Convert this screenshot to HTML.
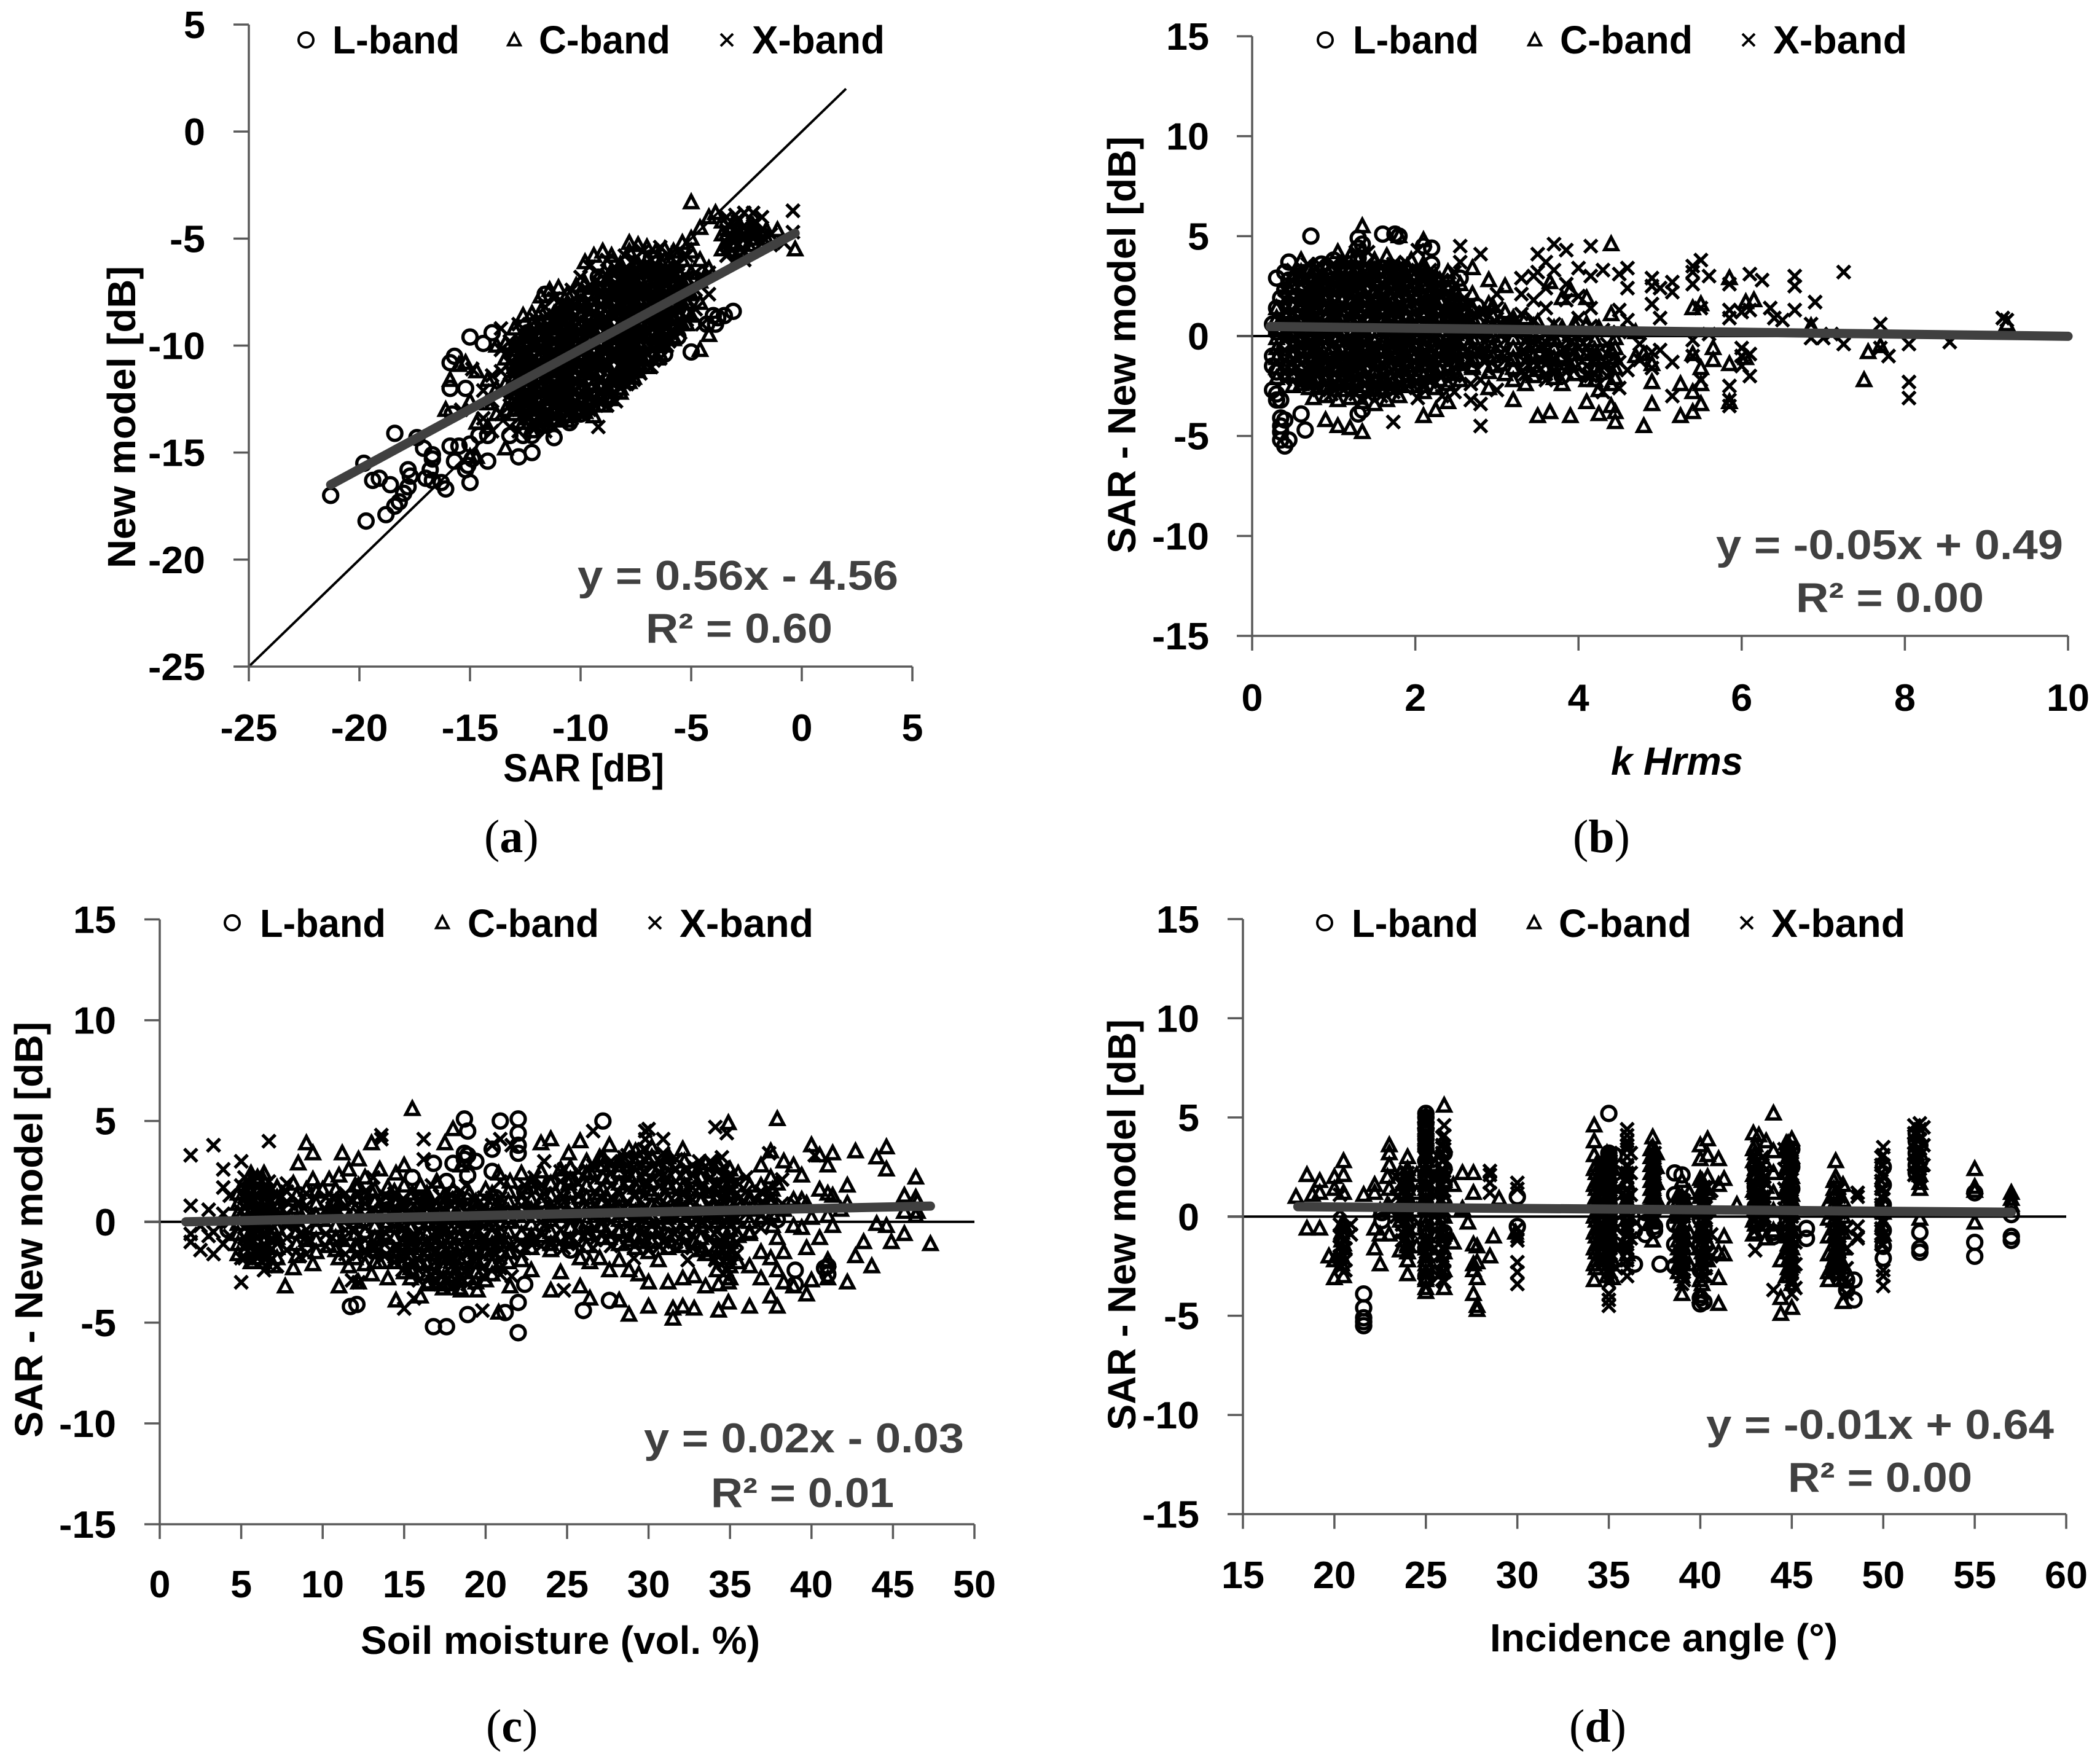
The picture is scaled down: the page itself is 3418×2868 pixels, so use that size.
<!DOCTYPE html>
<html lang="en">
<head>
<meta charset="utf-8">
<title>SAR versus new model scatter plots</title>
<style>
html,body{margin:0;padding:0;background:#fff}
svg{display:block}
text{font-family:"Liberation Sans",sans-serif;font-weight:700;fill:#000}
.eq{fill:#404040;font-size:68px}
.leg{font-size:64px}
.ttl{font-size:64px}
.cap{font-family:"Liberation Serif",serif;font-size:76px;font-weight:400}
.cap tspan{font-weight:700}
</style>
</head>
<body>
<svg id="fig" xmlns="http://www.w3.org/2000/svg" width="3418" height="2868" viewBox="0 0 3418 2868">
<rect width="3418" height="2868" fill="#fff"/>

<g id="pa">
<text class="ttl" x="819" y="1272" textLength="262" lengthAdjust="spacingAndGlyphs">SAR [dB]</text>
<text class="ttl" transform="translate(220,925) rotate(-90)" textLength="492" lengthAdjust="spacingAndGlyphs">New model [dB]</text>
<text class="leg" x="541" y="87" textLength="207" lengthAdjust="spacingAndGlyphs">L-band</text>
<text class="leg" x="877" y="87" textLength="214" lengthAdjust="spacingAndGlyphs">C-band</text>
<text class="leg" x="1224" y="87" textLength="216" lengthAdjust="spacingAndGlyphs">X-band</text>
<text class="eq" x="940" y="960" textLength="522" lengthAdjust="spacingAndGlyphs">y = 0.56x - 4.56</text>
<text class="eq" x="1051" y="1046" textLength="304" lengthAdjust="spacingAndGlyphs">R² = 0.60</text>
<text class="cap" x="788" y="1387">(<tspan>a</tspan>)</text>
</g>

<g id="pb">
<text class="ttl" style="font-style:italic" x="2622" y="1261" textLength="215" lengthAdjust="spacingAndGlyphs">k Hrms</text>
<text class="ttl" transform="translate(1848,901) rotate(-90)" textLength="679" lengthAdjust="spacingAndGlyphs">SAR - New model [dB]</text>
<text class="leg" x="2202" y="87" textLength="205" lengthAdjust="spacingAndGlyphs">L-band</text>
<text class="leg" x="2539" y="87" textLength="216" lengthAdjust="spacingAndGlyphs">C-band</text>
<text class="leg" x="2886" y="87" textLength="218" lengthAdjust="spacingAndGlyphs">X-band</text>
<text class="eq" x="2793" y="910" textLength="565" lengthAdjust="spacingAndGlyphs">y = -0.05x + 0.49</text>
<text class="eq" x="2923" y="996" textLength="306" lengthAdjust="spacingAndGlyphs">R² = 0.00</text>
<text class="cap" x="2560" y="1387">(<tspan>b</tspan>)</text>
</g>

<g id="pc">
<text class="ttl" x="587" y="2692" textLength="650" lengthAdjust="spacingAndGlyphs">Soil moisture (vol. %)</text>
<text class="ttl" transform="translate(69,2340) rotate(-90)" textLength="677" lengthAdjust="spacingAndGlyphs">SAR - New model [dB]</text>
<text class="leg" x="423" y="1525" textLength="205" lengthAdjust="spacingAndGlyphs">L-band</text>
<text class="leg" x="761" y="1525" textLength="214" lengthAdjust="spacingAndGlyphs">C-band</text>
<text class="leg" x="1106" y="1525" textLength="218" lengthAdjust="spacingAndGlyphs">X-band</text>
<text class="eq" x="1048" y="2364" textLength="521" lengthAdjust="spacingAndGlyphs">y = 0.02x - 0.03</text>
<text class="eq" x="1157" y="2453" textLength="298" lengthAdjust="spacingAndGlyphs">R² = 0.01</text>
<text class="cap" x="791" y="2835">(<tspan>c</tspan>)</text>
</g>

<g id="pd">
<text class="ttl" x="2425" y="2688" textLength="566" lengthAdjust="spacingAndGlyphs">Incidence angle (°)</text>
<text class="ttl" transform="translate(1848,2328) rotate(-90)" textLength="669" lengthAdjust="spacingAndGlyphs">SAR - New model [dB]</text>
<text class="leg" x="2200" y="1525" textLength="206" lengthAdjust="spacingAndGlyphs">L-band</text>
<text class="leg" x="2537" y="1525" textLength="216" lengthAdjust="spacingAndGlyphs">C-band</text>
<text class="leg" x="2883" y="1525" textLength="218" lengthAdjust="spacingAndGlyphs">X-band</text>
<text class="eq" x="2777" y="2342" textLength="566" lengthAdjust="spacingAndGlyphs">y = -0.01x + 0.64</text>
<text class="eq" x="2910" y="2428" textLength="300" lengthAdjust="spacingAndGlyphs">R² = 0.00</text>
<text class="cap" x="2554" y="2835">(<tspan>d</tspan>)</text>
</g>
</svg>

<script>
const ticksAX=[-25,-20,-15,-10,-5,0,5];
const ticksAY=[5,0,-5,-10,-15,-20,-25];
const ticksBX=[0,2,4,6,8,10];
const ticksCX=[0,5,10,15,20,25,30,35,40,45,50];
const ticksDX=[15,20,25,30,35,40,45,50,55,60];
const ticksY=[15,10,5,0,-5,-10,-15];

const trendAX=[-21.3,-0.3];
const trendAY=[-16.5,-4.75];
const trendBX=[0.22,10];
const trendBY=[0.48,-0.01];
const trendCX=[1.6,47.3];
const trendCY=[0,0.78];
const trendDX=[18,57];
const trendDY=[0.5,0.22];
const identityA=[-25,2];

const aL=[[-21.3,-17],[-19.8,-15.5],[-19.7,-18.2],[-19.4,-16.3],[-19.1,-16.2],[-18.8,-17.9],[-18.6,-16.5],[-18.4,-17.5,-14.1],[-18.2,-17.3],[-18,-16.9],[-17.8,-16.6,-15.8],[-17.7,-16.1],[-17.4,-14.3],[-17.1,-14.8],[-17,-16.2],[-16.7,-15.1,-15.3,-16.3],[-16.8,-15.8],[-16.3,-16.4],[-16.1,-16.7],[-15.9,-14.7,-10.8,-12],[-15.7,-15.4,-10.5],[-15.8,-13.2],[-15.5,-14.7],[-15.2,-15.8,-12],[-15.1,-15.6],[-15,-16.4,-14.6,-9.6],[-14.9,-15.3],[-14.6,-14.2],[-14.4,-9.9],[-14.2,-15.4,-14.2],[-14,-9.4],[-13.2,-14.2],[-12.8,-15.2],[-12.6,-14.2],[-12.2,-15,-14.2],[-11.6,-7.6],[-11.2,-14.3],[-10.5,-13.6],[-10,-13.2],[-9.2,-12.4],[-6.2,-10.4],[-5.6,-9.6],[-5,-10.3],[-4.3,-9],[-4,-8.6],[-3.9,-9],[-3.8,-8.7],[-3.5,-8.6],[-3.1,-8.4],[-13,-11,-12.2,-10.4],[-12.4,-12.5,-10.8,-9.4],[-11.6,-13,-11,-9],[-11,-12,-10,-8.6],[-10.4,-12.6,-10.6,-8.4],[-9.8,-11.6,-9.6,-7.6],[-9.2,-10.8,-8.8,-6.8],[-8.6,-10.2,-8.2,-6.2],[-8,-11.4,-9.4,-7.4],[-7.4,-10.4,-8.4,-6.4],[-6.8,-9.6,-7.6,-5.9],[-6.2,-8.6,-6.6]];
const aLDense=[[-12.55,-12.7,-12,-11.3,-10.6,-9.9],[-11.95,-13.2,-12.5,-11.8,-11.1,-10.4,-9.7],[-11.35,-13,-12.3,-11.6,-10.9,-10.2,-9.5,-8.8],[-10.75,-12.9,-12.2,-11.5,-10.8,-10.1,-9.4,-8.7],[-10.15,-12.6,-11.9,-11.2,-10.5,-9.8,-9.1,-8.4],[-9.55,-12.4,-11.7,-11,-10.3,-9.6,-8.9,-8.2,-7.5],[-8.95,-12,-11.3,-10.6,-9.9,-9.2,-8.5,-7.8,-7.1],[-8.35,-11.6,-10.9,-10.2,-9.5,-8.8,-8.1,-7.4,-6.7],[-7.75,-11.1,-10.4,-9.7,-9,-8.3,-7.6,-6.9],[-7.15,-10.6,-9.9,-9.2,-8.5,-7.8,-7.1,-6.5],[-6.55,-10,-9.3,-8.6,-7.9,-7.2,-6.6],[-5.95,-9.3,-8.6,-7.9,-7.2,-6.6]];
const aC=[[-16.1,-13],[-15.9,-11.6],[-15.5,-10.9],[-15.2,-10.8],[-15,-12.6,-15.2],[-14.7,-13.6,-11.2,-15.2],[-14.2,-13.8,-11.6,-12.7],[-13.8,-13.2,-12,-10],[-13.4,-14.8,-13,-11.8,-10.6,-9.9],[-13,-13.2,-12.2,-11.2,-10.2,-9.2],[-12.6,-13.6,-12.6,-11.6,-10.6,-9.6,-8.6],[-12.2,-14,-13,-12,-11,-10,-9,-8.5],[-11.8,-13.4,-12.4,-11.4,-10.4,-9.4,-8.4,-7.7],[-11.4,-13.7,-12.7,-11.7,-10.7,-9.7,-8.7,-7.4],[-11,-13.2,-12.2,-11.2,-10.2,-9.2,-8.2,-7.3],[-10.6,-13.5,-12.5,-11.5,-10.5,-9.5,-8.5,-7.6],[-10.2,-13,-12,-11,-10,-9,-8,-7.2],[-9.8,-13.1,-12.2,-11.2,-10.2,-9.2,-8.2,-7.1,-6.1],[-9.4,-13.3,-12.3,-11.3,-10.3,-9.3,-8.3,-7.3,-5.8],[-9,-12.8,-11.8,-10.8,-9.8,-8.8,-7.8,-6.8,-5.6],[-8.6,-12.5,-11.5,-10.5,-9.5,-8.5,-7.5,-6.5,-5.8],[-8.2,-12.2,-11.2,-10.2,-9.2,-8.2,-7.2,-6.2],[-7.8,-11.7,-10.7,-9.7,-8.7,-7.7,-6.7,-5.2,-5.6],[-7.4,-11.2,-10.2,-9.2,-8.2,-7.2,-6.2,-5.3],[-7,-11,-10,-9,-8,-7,-6,-5.4],[-6.6,-10.6,-9.6,-8.6,-7.6,-6.6,-5.6],[-6.2,-10,-9,-8,-7,-6,-5.5],[-5.8,-9.6,-8.6,-7.6,-6.6,-5.6],[-5.4,-9,-8,-7,-6,-5.2],[-5,-8.6,-7.6,-6.6,-5.6,-5,-3.3],[-4.6,-8,-7,-6,-4.5,-10.2],[-4.2,-9.5,-6.4,-4],[-3.9,-3.8],[-3.6,-5.5,-4.8,-4.2],[-3.2,-5.2,-4.6],[-2.8,-5.6,-4.8],[-2.2,-5,-4.4],[-1.6,-5,-4.6],[-1.1,-4.6],[-0.3,-5.5]];
const aCDense=[[-13,-13,-12.5,-12,-11.5,-11,-10.5,-10],[-12.4,-13.4,-12.9,-12.4,-11.9,-11.4,-10.9,-10.4,-9.9,-9.4],[-11.8,-13.5,-13,-12.5,-12,-11.5,-11,-10.5,-10,-9.5,-9],[-11.2,-13.5,-13,-12.5,-12,-11.5,-11,-10.5,-10,-9.5,-9,-8.5],[-10.6,-13.3,-12.8,-12.3,-11.8,-11.3,-10.8,-10.3,-9.8,-9.3,-8.8,-8.3,-8],[-10,-13,-12.5,-12,-11.5,-11,-10.5,-10,-9.5,-9,-8.5,-8,-7.6],[-9.4,-12.8,-12.3,-11.8,-11.3,-10.8,-10.3,-9.8,-9.3,-8.8,-8.3,-7.8,-7.3],[-8.8,-12.4,-11.9,-11.4,-10.9,-10.4,-9.9,-9.4,-8.9,-8.4,-7.9,-7.4,-6.9],[-8.2,-12,-11.5,-11,-10.5,-10,-9.5,-9,-8.5,-8,-7.5,-7,-6.5],[-7.6,-11.5,-11,-10.5,-10,-9.5,-9,-8.5,-8,-7.5,-7,-6.5],[-7,-11,-10.5,-10,-9.5,-9,-8.5,-8,-7.5,-7,-6.5],[-6.4,-10.4,-9.9,-9.4,-8.9,-8.4,-7.9,-7.4,-6.9,-6.4],[-5.8,-9.7,-9.2,-8.7,-8.2,-7.7,-7.2,-6.7,-6.3],[-5.2,-9,-8.5,-8,-7.5,-7],[-3.1,-4.9,-5.3],[-2.7,-4.6,-5.2],[-2.4,-4.7,-5.3]];
const aX=[[-15.4,-13],[-14.9,-11.1],[-14.4,-12.1,-13.4],[-14,-11.4,-12.6,-14],[-13.6,-9.2,-10.2,-11.2,-12.2,-13.2],[-13.2,-9.8,-10.8,-11.8,-12.8,-13.8],[-12.8,-9,-10,-11,-12,-13,-14],[-12.4,-9.4,-10.4,-11.4,-12.4,-13.4],[-12,-8.8,-9.8,-10.8,-11.8,-12.8,-13.8],[-11.6,-8.2,-9.2,-10.2,-11.2,-12.2,-13.2,-14],[-11.2,-7.8,-8.8,-9.8,-10.8,-11.8,-12.8,-13.8],[-10.8,-8,-9,-10,-11,-12,-13],[-10.4,-7.4,-8.4,-9.4,-10.4,-11.4,-12.4,-13.4],[-10,-6.8,-7.8,-8.8,-9.8,-10.8,-11.8,-12.8],[-9.6,-6.3,-7.2,-8.2,-9.2,-10.2,-11.2,-12.2,-13],[-9.2,-6.6,-7.6,-8.6,-9.6,-10.6,-11.6,-12.6,-13.8],[-8.8,-6,-7,-8,-9,-10,-11,-12,-12.8],[-8.4,-6.6,-7.6,-8.6,-9.6,-10.6,-11.6,-12.6],[-8,-5.8,-6.8,-7.8,-8.8,-9.8,-10.8,-11.8],[-7.6,-6,-7,-8,-9,-10,-11,-11.6],[-7.2,-5.6,-6.6,-7.6,-8.6,-9.6,-10.6],[-6.8,-6,-7,-8,-9,-10,-11],[-6.4,-5.4,-6.4,-7.4,-8.4,-9.4,-10.6],[-6,-5.8,-6.8,-7.8,-8.8,-9.8],[-5.6,-5.6,-6.2,-7.2,-8.2,-9.2],[-5.2,-5.8,-6.8,-7.8,-8.8],[-4.8,-6.6,-7.4,-8.3],[-4.5,-6.8,-9],[-4.2,-6.6,-7.6],[-3.4,-4,-4.6,-5.2,-5.8],[-3,-3.9,-4.5,-5.1,-5.7,-6],[-2.6,-3.8,-4.4,-5,-5.6,-6],[-2.2,-3.8,-4.4,-5],[-1.8,-4,-4.6,-5.2],[-1.4,-4.8,-5.3],[-0.8,-5.2],[-0.4,-3.7,-4.7]];
const aXDense=[[-12.7,-13.3,-12.8,-12.3,-11.8,-11.3,-10.8,-10.3,-9.8],[-12.1,-13.5,-13,-12.5,-12,-11.5,-11,-10.5,-10,-9.5],[-11.5,-13.5,-13,-12.5,-12,-11.5,-11,-10.5,-10,-9.5,-9],[-10.9,-13.4,-12.9,-12.4,-11.9,-11.4,-10.9,-10.4,-9.9,-9.4,-8.9,-8.4],[-10.3,-13.2,-12.7,-12.2,-11.7,-11.2,-10.7,-10.2,-9.7,-9.2,-8.7,-8.2],[-9.7,-12.9,-12.4,-11.9,-11.4,-10.9,-10.4,-9.9,-9.4,-8.9,-8.4,-7.9,-7.4],[-9.1,-12.6,-12.1,-11.6,-11.1,-10.6,-10.1,-9.6,-9.1,-8.6,-8.1,-7.6,-7.1],[-8.5,-12.2,-11.7,-11.2,-10.7,-10.2,-9.7,-9.2,-8.7,-8.2,-7.7,-7.2,-6.7],[-7.9,-11.8,-11.3,-10.8,-10.3,-9.8,-9.3,-8.8,-8.3,-7.8,-7.3,-6.8,-6.4],[-7.3,-11.3,-10.8,-10.3,-9.8,-9.3,-8.8,-8.3,-7.8,-7.3,-6.8,-6.3],[-6.7,-10.7,-10.2,-9.7,-9.2,-8.7,-8.2,-7.7,-7.2,-6.7,-6.3],[-6.1,-10,-9.5,-9,-8.5,-8,-7.5,-7,-6.5],[-5.5,-9.4,-8.9,-8.4,-7.9,-7.4,-6.9,-6.5],[-3.3,-4.4,-4.9,-5.4],[-2.9,-4.2,-4.8,-5.3],[-2.1,-4.2,-4.7]];

const bL=[[0.25,-1.5,-1,-2.7,0.6],[0.3,-3.2,-2.9,-1.8,1.4,2.9,0.2],[0.35,-4.1,-4.5,-4.8,-5.2,-3.2,-1,0.4,1.9],[0.4,-5.5,-4.2,-0.6,0.8,2.3,3.2],[0.45,-5.2,-1.6,0.2,1.6,3.7,2.8],[0.55,-2,-0.8,0.6,2,3],[0.6,-3.9,-1.4,0.3,1.3],[0.65,-4.7,-2.2,0.8,2.4],[0.72,5,-0.6,1.8],[0.85,-1.6,0.5,3.6,2.4],[1,-0.8,1.2,2.6,3.8],[1.15,-1.9,0.2,1.9,3.1],[1.3,-3.9,4.9,4.4,-1.2,0.9,2.8,3.9],[1.35,-3.7,0.1,1.6,4.6],[1.6,5.1,-1.3,0.7,2.2,3.4],[1.75,5.1,-0.9,1.3,2.7],[1.8,5,0.3,3.3],[2.1,4.5,-1.1,1.1,2.5],[2.2,4.4,0.2,1.9,3.6],[2.4,-0.6,0.9,2.4],[2.55,0.3,1.6,2.9]];
const bLDense=[[0.75,-2.3,-1.3,-0.3,0.7,1.7,2.7],[1.05,-2.2,-1.2,-0.2,0.8,1.8,2.8],[1.25,-2.4,-1.4,-0.4,0.6,1.6,2.6],[1.55,-2.3,-1.3,-0.3,0.7,1.7,2.7],[1.85,-2.2,-1.2,-0.2,0.8,1.8,2.8],[2.15,-2,-1,0,1,2,3],[2.45,-1.6,-0.7,0.3,1.3,2.3],[2.75,-1.2,-0.3,0.6,1.5],[3.05,-1.3,-0.4,0.6],[3.55,-1.7,-0.9,0],[3.8,-2,-1.1,-0.2],[4.05,-1.7,-0.8,0.1],[4.3,-1.8,-0.8]];
const bC=[[0.45,-1.2,0,1.2,2.4],[0.6,-2.4,-1.6,-0.8,0,0.8,1.6,2.4,3.2,3.8],[0.75,-3.1,-2.3,-1.5,-0.7,0.1,0.9,1.7,2.5,3.3],[0.9,-4.2,-3,-2.2,-1.4,-0.6,0.2,1,1.8,2.6,3.4],[1.05,-4.5,-3.2,-2.4,-1.6,-0.8,0,0.8,1.6,2.4,3.2,4.2],[1.2,-4.6,-3.1,-2.3,-1.5,-0.7,0.1,0.9,1.7,2.5,3.3,4],[1.35,-4.8,-3.3,-2.5,-1.7,-0.9,-0.1,0.7,1.5,2.3,3.1,5.5],[1.5,-3.4,-2.6,-1.8,-1,-0.2,0.6,1.4,2.2,3,3.8],[1.65,-3.2,-2.4,-1.6,-0.8,0,0.8,1.6,2.4,3.2,4],[1.8,-3,-2.2,-1.4,-0.6,0.2,1,1.8,2.6,3.4,5],[1.95,-2.5,-1.7,-0.9,-0.1,0.7,1.5,2.3,3.1,3.8],[2.1,-4,-2.8,-2,-1.2,-0.4,0.4,1.2,2,2.8,3.6,4.8],[2.25,-3.7,-2.6,-1.8,-1,-0.2,0.6,1.4,2.2,3],[2.4,-3.3,-2.4,-1.6,-0.8,0,0.8,1.6,2.4,3.2],[2.55,-2.2,-1.4,-0.6,0.2,1,1.8,2.6],[2.7,-1.5,-0.7,0.5,1.3,2.1,3.4],[2.9,-2.6,-1.8,-1,0,0.8,1.6,2.8],[3.1,-1.9,-0.9,0.3,1.2,2.5],[3.2,-3.2,-2.2,-1.2,0.6],[3.35,-2.4,-1.4,-0.4,0.9],[3.5,-4,-1.7,-0.5,0.7],[3.65,-3.8,-1.2,-0.2,2.7],[3.8,-2.4,-1,0.4,1.9],[3.9,-4,-1.5,0.1,2.3],[4.1,-3.3,-2.2,-0.9,0.6,1.9],[4.25,-3.9,-2.7,-1.1,0.4],[4.4,4.6,-3.5,-2.4,-0.7,1.1],[4.45,-4.3,-3.8,-1.6,-0.6],[4.7,-1,0.2],[4.8,-4.5,-0.9],[4.9,-3.4,-2.3,-1.4],[5.25,-4,-2.4],[5.4,-3.8,-2.8,-0.9,1.4],[5.5,-3.4,-2.4,-1.6,1.6],[5.65,-1.2,-0.6],[5.85,2.9,-1.4,-3.3],[6.05,1.7,-1.1],[6.15,1.8],[6.85,0.5],[7.5,-2.2],[7.55,-0.8],[7.7,-0.5],[9.25,0.6]];
const bCDense=[[0.3,-2.1,-1.6,-1.1,-0.6,-0.1,0.4,0.9,1.4],[0.5,-2.5,-2,-1.5,-1,-0.5,0,0.5,1,1.5,2,2.5,3],[0.7,-2.6,-2.1,-1.6,-1.1,-0.6,-0.1,0.4,0.9,1.4,1.9,2.4,2.9,3.3],[0.9,-2.6,-2.1,-1.6,-1.1,-0.6,-0.1,0.4,0.9,1.4,1.9,2.4,2.9,3.4],[1.1,-2.7,-2.2,-1.7,-1.2,-0.7,-0.2,0.3,0.8,1.3,1.8,2.3,2.8,3.3,3.7],[1.3,-2.7,-2.2,-1.7,-1.2,-0.7,-0.2,0.3,0.8,1.3,1.8,2.3,2.8,3.3,3.8],[1.5,-2.7,-2.2,-1.7,-1.2,-0.7,-0.2,0.3,0.8,1.3,1.8,2.3,2.8,3.3,3.7],[1.7,-2.6,-2.1,-1.6,-1.1,-0.6,-0.1,0.4,0.9,1.4,1.9,2.4,2.9,3.4],[1.9,-2.5,-2,-1.5,-1,-0.5,0,0.5,1,1.5,2,2.5,3,3.5],[2.1,-2.5,-2,-1.5,-1,-0.5,0,0.5,1,1.5,2,2.5,3,3.4],[2.3,-2.2,-1.7,-1.2,-0.7,-0.2,0.3,0.8,1.3,1.8,2.3,2.8],[2.5,-1.9,-1.4,-0.9,-0.4,0.1,0.6,1.1,1.6,2.1],[2.7,-1.6,-1.1,-0.6,-0.1,0.4,0.9,1.4],[2.95,-1.5,-1,-0.5,0,0.5,1,1.5],[3.2,-1.6,-1.1,-0.6,-0.1,0.4,0.9],[3.45,-2,-1.5,-1,-0.5,0,0.5],[3.7,-2.1,-1.6,-1.1,-0.6,-0.1,0.4],[3.95,-1.9,-1.4,-0.9,-0.4,0.1,0.6],[4.2,-2.2,-1.7,-1.2,-0.7,-0.2],[4.45,-2.1,-1.6,-1.1,-0.6,-0.1]];
const bX=[[0.5,-1.8,-0.6,0.6,1.8,3.3],[0.68,-2,-1.2,-0.4,0.4,1.2,2,2.8,3.6],[0.82,-2.7,-1.9,-1.1,-0.3,0.5,1.3,2.1,2.9,3.6],[0.97,-2.9,-2.1,-1.3,-0.5,0.3,1.1,1.9,2.7,3.5],[1.12,-2.7,-1.9,-1.1,-0.3,0.5,1.3,2.1,2.9,3.7],[1.27,-2.9,-2.1,-1.3,-0.5,0.3,1.1,1.9,2.7,3.5,4.2],[1.42,-3,-2.2,-1.4,-0.6,0.2,1,1.8,2.6,3.4,4.2],[1.58,-3,-2.2,-1.4,-0.6,0.2,1,1.8,2.6,3.4],[1.73,-4.3,-2.8,-2,-1.2,-0.4,0.4,1.2,2,2.8,3.6],[1.88,-2.6,-1.8,-1,-0.2,0.6,1.4,2.2,3,3.7],[2.03,-3.1,-2.3,-1.5,-0.7,0.1,0.9,1.7,2.5,3.3,4.3],[2.18,-2.3,-1.5,-0.7,0.1,0.9,1.7,2.5,3.3],[2.33,-3,-2,-1.2,-0.4,0.4,1.2,2,2.8],[2.48,-2.8,-2,-1.2,-0.4,0.4,1.2,2,3.2],[2.55,4.5,3.7],[2.68,-3.2,-2.4,-1.2,-0.2,0.7,1.6],[2.8,-4.5,-3.4,-2.2,-0.8,0.2,1.2,4.1],[3,-2.7,-1.6,-0.6,0.5,1.4,2.1],[3.3,-1.8,-0.8,0.2,1.1,2.1,2.9],[3.45,-1.3,-0.3,0.8,1.8,3],[3.6,-2.2,-1,0.1,1.4,3.7,2.4],[3.5,4.1,3.2],[3.7,4.6,-1.7,0.6,3.3],[3.85,4.3,-1.2,0.3,1.8,2.6],[4,-0.6,0.9,2,3.4],[4.15,4.5,-2,-0.9,0.5,1.4,3],[4.3,-2.8,-1.5,0.3,3.3],[4.5,3.1,-2.6,-1.3,0.2,1.3],[4.6,3.4,2.4,-1.7,0.8],[4.75,-1.2,-0.4],[4.9,2.5,2.9,1.6,-0.8,-1.6],[5,2.4,0.9,-0.7],[5.15,2.7,2.2,-1.3,-3],[5.4,3.5,3.2,2.6,-0.2,-1],[5.5,3.8,1.4,-2.2],[5.6,3,0.1],[5.85,2.6,1.3,0.9,-2.5,-3.2,-3.5],[6,-0.6,-1,-1.5,1.2],[6.1,3.1,1.3,-2,-0.9],[6.25,2.8],[6.35,1.4],[6.4,0.9],[6.5,0.8],[6.65,3,2.5,1.3],[6.85,0.6,-0.1],[6.9,1.7],[7,-0.1],[7.1,0.1],[7.25,3.2,-0.4],[7.7,0.6,-0.6],[7.8,-1],[8.05,-0.4,-2.3,-3.1],[8.55,-0.3],[9.2,0.9],[9.25,0.8]];
const bXDense=[[0.4,-2.2,-1.7,-1.2,-0.7,-0.2,0.3,0.8,1.3,1.8,2.3],[0.6,-2.4,-1.9,-1.4,-0.9,-0.4,0.1,0.6,1.1,1.6,2.1,2.6,3.1],[0.8,-2.5,-2,-1.5,-1,-0.5,0,0.5,1,1.5,2,2.5,3,3.4],[1,-2.4,-1.9,-1.4,-0.9,-0.4,0.1,0.6,1.1,1.6,2.1,2.6,3.1,3.6],[1.2,-2.5,-2,-1.5,-1,-0.5,0,0.5,1,1.5,2,2.5,3,3.5],[1.4,-2.4,-1.9,-1.4,-0.9,-0.4,0.1,0.6,1.1,1.6,2.1,2.6,3.1,3.6],[1.6,-2.5,-2,-1.5,-1,-0.5,0,0.5,1,1.5,2,2.5,3,3.5],[1.8,-2.4,-1.9,-1.4,-0.9,-0.4,0.1,0.6,1.1,1.6,2.1,2.6,3.1,3.5],[2,-2.3,-1.8,-1.3,-0.8,-0.3,0.2,0.7,1.2,1.7,2.2,2.7,3.2],[2.2,-2.1,-1.6,-1.1,-0.6,-0.1,0.4,0.9,1.4,1.9,2.4,2.9],[2.4,-1.8,-1.3,-0.8,-0.3,0.2,0.7,1.2,1.7,2.2,2.6],[2.6,-1.5,-1,-0.5,0,0.5,1,1.5,1.9],[2.85,-1.3,-0.8,-0.3,0.2,0.7,1.2],[3.1,-1.2,-0.7,-0.2,0.3,0.8],[3.35,-1.9,-1.3,-0.8,-0.3,0.2],[3.6,-1.9,-1.4,-0.8,-0.3,0.2],[3.85,-1.8,-1.2,-0.7,-0.2,0.3],[4.1,-2,-1.5,-1,-0.5,0],[4.35,-2,-1.4,-0.9,-0.4]];

const cL=[[4.2,-0.4],[6.2,0.9,-0.8],[8,0.5],[11.7,-4.2],[12.1,-4.1],[14,-1.2,0.6],[15.5,2.2,-1],[16.2,1.1,-2],[16.8,-5.2,2.9],[17.6,-5.2,2],[18,1.4,-2.6,2.9],[18.7,3.4,3.1,5.1,0.6],[18.9,-4.6,4.5,2.3,3.3],[19.4,3,-1.4],[20.4,3.6,2.5,-0.8],[20.9,5],[21.2,-4.5],[22,5.1,4.4,-4,-5.5,3.8,3.4],[22.4,-3.1,1.5],[25.2,2,-1.4],[26,-4.4],[27.2,5],[27.6,-3.9],[31.2,-1.2],[37.9,0.1],[39,-2.4,-3.1],[40.8,-2.3],[41,-2.6,-2.2],[24,1.9],[20.6,-1.2,1.2],[17,-1,0.3],[19.6,0.4]];
const cC=[[7.7,-3.2],[8.2,-2.3,1.9],[8.5,2.9],[9,3.9,-0.9,1.6],[9.4,3.4,2.1,-2.1],[10,1.6,0.1],[10.4,2.1,-1.2,0.7],[11,2.3,-3.2,-1.8,0.9],[11.2,3.4,1.1,-0.9],[11.6,2.6,-2.2,0.2],[12.2,3.1,1.8,-3,-1.2,0.3],[12.6,2.2,-2.1,-0.5,0.9],[13,3.9,1.5,-2.6,-1.2,0.3],[13.5,2.6,-2,-0.8,0.8],[14,-2.8,1.7,0],[14.5,2.4,-3.9,-1.7,0.9],[15,2.8,-2.5,-0.9,0.6,1.8],[15.5,5.6,-2.5,-1.2,0.2,1.4],[16,-3.7,-2,-0.8,0.5,1.8],[16.5,-3,-1.4,0,1.2],[17,-2.5,-1,0.7,2],[17.5,3.9,-3.1,-1.8,-0.4,1],[18,4.6,-2.7,-1.2,0.2,1.6],[18.5,-3.4,-2,-0.6,0.7,2.8],[19,-2.8,-1.4,0,1.4],[19.5,-3.4,-2,-0.7,0.8],[20,-2.9,-1.4,0.1,1.6],[20.8,-4.5,-2.2,-0.8,0.7,2.4],[21.5,-3.2,-1.5,0.2,2],[22.2,-1.9,-0.6,1,2.4],[22.8,-2.4,-0.9,0.6,2],[23.4,-0.7,1,3.9,2.5],[24,-3.4,-1.4,0.4,1.9,4.1],[24.6,-2.5,-0.7,1,2.6],[25.1,-1,0.4,1.9,3.4],[25.8,-3.2,-1.8,-0.2,1.2,4],[26.4,-3.8,-2,-0.6,0.9,2.5],[27,-1.8,-0.2,1.4,3.2],[27.6,-2.4,-0.8,0.6,2.2,3.8],[28.2,-3.9,-1.9,-0.4,1.1,2.8],[28.8,-4.6,-2.4,-0.9,0.7,2.3,3.6],[29.4,-2.6,-1,0.4,1.8,3.2],[30,-4.2,-3,-1.5,0,1.6,3],[30.6,-1.9,-0.5,1,2.6],[31.2,-3,-1.3,0.2,1.9,3.2],[31.5,-4.8,-4.3],[32.1,-4.2,-2.8,-1.2,0.4,1.7,3.6],[32.8,-4.3,-2.7,-1,0.5,2.2],[33.5,-3.2,-1.6,0,1.5,2.9],[34.3,-4.4,-3.1,-1.5,0.2,1.6,2.8],[34.9,-4,-3,-1.8,4.9,0,1.4],[35.5,-2,-0.7,0.9,2.4],[36.2,-4.2,-2.2,-0.5,1],[36.9,-2.8,-1.5,0.2,1.8,2.8],[37.5,-3.7,-1.8,1.1,3.5,2.2],[37.9,-4.2,-2.4,-0.8,5.1,1.9],[38.3,-3,-1.5,0.6,3],[38.9,-3.2,-0.2,1.1,2.8],[39.4,-0.3,1.1,2.3],[39.7,-3.6,-1.3,0.9],[40,-2.9,3.8,0.2],[40.5,-0.8,1.6,3.3],[41,-2.8,-1.9,0.3,1.4,2.8],[41.3,3.4,1.3,-0.2],[41.8,0.6],[42.2,-3,0.9,1.8],[42.7,-1.7,3.5],[43.2,-1],[43.7,-2.2],[44,-0.1,3.2],[44.6,-0.2,2.6,3.7],[44.9,-1],[45.7,1.3,0.5,-0.6],[46.4,0.3,1.2,2.2],[46.5,0.5,1],[47.3,-1.1],[7,-2.2,1.2,-0.5],[6,2.2,-1.8,0.3],[5.5,-1,1.5]];
const cCDense=[[4.8,-1.6,-1.1,-0.6,-0.1,0.4,0.9,1.4],[5.6,-2,-1.5,-1,-0.5,0,0.5,1,1.5,2,2.4],[6.4,-2,-1.5,-1,-0.5,0,0.5,1,1.5,2,2.4],[7.2,-1.8,-1.3,-0.8,-0.3,0.2,0.7,1.2,1.7],[8.4,-1.7,-1.1,-0.5,0.1,0.7,1.3],[9.6,-1.5,-0.9,-0.3,0.3,0.9,1.5],[10.8,-1.4,-0.8,-0.2,0.4,1,1.6],[12,-1.8,-1.2,-0.6,0,0.6,1.2,1.8],[13.2,-2,-1.4,-0.8,-0.2,0.4,1,1.6],[14.4,-2,-1.4,-0.8,-0.2,0.4,1,1.5],[15.4,-2.8,-2.3,-1.8,-1.3,-0.8,-0.3,0.2,0.7,1.2],[16.4,-3.1,-2.6,-2.1,-1.6,-1.1,-0.6,-0.1,0.4,0.9,1.4],[17.4,-3.3,-2.8,-2.3,-1.8,-1.3,-0.8,-0.3,0.2,0.7,1.2],[18.4,-3.3,-2.8,-2.3,-1.8,-1.3,-0.8,-0.3,0.2,0.7,1.2],[19.4,-3,-2.5,-2,-1.5,-1,-0.5,0,0.5,1],[20.4,-2.6,-2.1,-1.6,-1.1,-0.6,-0.1,0.4,0.9,1.4],[21.4,-2,-1.5,-1,-0.5,0,0.5,1,1.5],[22.8,-1.3,-0.7,-0.1,0.5,1.1,1.7],[24,-1.1,-0.5,0.1,0.7,1.3,1.9],[25.2,-0.9,-0.3,0.3,0.9,1.5,2.1,2.7],[26.2,-1.2,-0.6,0,0.6,1.2,1.8,2.4,3],[27.2,-0.8,-0.2,0.4,1,1.6,2.2,2.8,3.2],[28.2,-1.1,-0.5,0.1,0.7,1.3,1.9,2.5,3],[29.2,-1.3,-0.7,-0.1,0.5,1.1,1.7,2.3,2.9,3.5],[30.2,-1,-0.4,0.2,0.8,1.4,2,2.6,3.2,3.7],[31.2,-0.7,-0.1,0.5,1.1,1.7,2.3,2.9,3.3],[32.2,-1.2,-0.6,0,0.6,1.2,1.8,2.4,3],[33.2,-1.4,-0.8,-0.2,0.4,1,1.6,2.2,2.7],[34.2,-2.4,-1.8,-1.2,-0.6,0,0.6,1.2,1.8,2.4,2.9],[35,-2.8,-2.2,-1.6,-1,-0.4,0.2,0.8,1.4,2,2.6],[36.2,-0.6,0,0.6,1.2,1.8],[37.6,-0.2,0.4,1,1.6]];
const cX=[[1.9,3.3,0.8,-0.6,-1],[2.5,-1.4,-0.2],[3,-0.7,0.6],[3.3,3.8,-1.6,-0.5],[3.9,2.6,1.7,-1.1,0.4],[4.3,1.3,0,-0.7],[5,3,-3,-1.8,1.8,0.5],[5.3,-1.1,0.9,1.6],[5.7,-1.9,-0.6,0.2,1.2,2.1],[6,2.3,-0.1,-1.3,0.8],[6.4,-2.4,-1.1,0.5,1.6],[6.7,4,-1.7,-0.4,0.9,2],[7.2,-2.2,-0.8,0.6,1.4],[7.8,-1.4,0,1,1.9],[8.6,-1.7,-0.6,0.9],[9.2,-0.9,0.4],[10.6,-0.8,0.5,1.2],[11.8,-2.9,-0.4,1],[12.2,-3,-1.6,0.4,1.4],[13.1,-1.4,0.1,2.2],[13.6,4.3,4.1,-0.8,1],[14.4,-2,-0.2,1.4],[15,-4.3,-1.6,-0.3,1.1],[15.6,-3.8,-2,-0.6,0.8],[16.2,4.1,3.1,-1.6,-0.2,1.2],[16.7,-2.7,-1.2,0.4,1.8],[17.2,-3.1,-1.6,-0.1,1.3],[17.8,-2,-0.7,0.9],[18.3,-3,-1.6,-0.2,1.2],[18.8,-2.4,-0.9,0.5,1.8],[19.3,-1.7,-0.3,1.1],[19.8,-4.4,-2.3,-0.9,0.5],[20.4,3.8,-1.8,-0.3,1.2],[20.9,4.1,-2.6,-1,0.4,2],[21.6,-2.7,-1.2,0.5,3.8],[22.4,-1.3,0.3,1.8],[23,-1,0.7,2.2],[23.6,-0.2,1.4,3],[24.8,-3.4,-1.3,0.3,1.2,2.6],[26.6,4.5,-1.3,0.2,2.8],[27.4,-0.9,0.9,2.6],[28.5,-1.1,0.4,1.9,3.2],[29.1,-1.8,-0.3,1.3,2.7],[29.8,4.5,4.1,3.6,-0.8,0.8,2.4],[30,4.6,3.2,-1.4,0.3,1.9],[30.9,4.1,-1,0.7,2.3,3.4],[31.6,-0.6,1,2.6],[32.4,-1.9,-0.4,1.1,2.6],[33.1,-1.4,0.2,1.7,3],[33.8,-0.8,0.8,2.2,3],[34.1,4.7,-1.9,0.4,1.9],[34.5,-1,-0.1,1.2,3.2],[34.8,4.4,-2.4,-0.9,0.6,2.2],[35.2,-1.4,0.2,1.6],[36,0.4,1.5,2.2],[37,1,1.4],[37.4,3.4,1.2],[38.2,0.9,2.1],[39,0.9],[40.2,3.3]];
const cXDense=[[5.2,-1.8,-1.3,-0.8,-0.3,0.2,0.7,1.2,1.7,2.2],[6,-1.8,-1.3,-0.8,-0.3,0.2,0.7,1.2,1.7,2.2],[6.8,-1.9,-1.4,-0.9,-0.4,0.1,0.6,1.1,1.6],[7.8,-1.4,-0.8,-0.2,0.4,1,1.5],[9,-1.6,-1,-0.4,0.2,0.8,1.4],[10.2,-1.2,-0.6,0,0.6,1.2],[11.4,-1.6,-1,-0.4,0.2,0.8,1.4],[12.6,-1.5,-0.9,-0.3,0.3,0.9,1.5],[13.8,-1.7,-1.1,-0.5,0.1,0.7,1.3],[14.9,-2.4,-1.9,-1.4,-0.9,-0.4,0.1,0.6,1.1],[15.9,-2.9,-2.4,-1.9,-1.4,-0.9,-0.4,0.1,0.6,1.1],[16.9,-3,-2.5,-2,-1.5,-1,-0.5,0,0.5,1],[17.9,-3.2,-2.7,-2.2,-1.7,-1.2,-0.7,-0.2,0.3,0.8,1.3],[18.9,-3.1,-2.6,-2.1,-1.6,-1.1,-0.6,-0.1,0.4,0.9],[19.9,-2.7,-2.2,-1.7,-1.2,-0.7,-0.2,0.3,0.8,1.2],[20.9,-2.3,-1.8,-1.3,-0.8,-0.3,0.2,0.7,1.2],[22.2,-1.6,-1,-0.4,0.2,0.8,1.4],[23.4,-1.2,-0.6,0,0.6,1.2,1.8],[24.6,-1,-0.4,0.2,0.8,1.4,2,2.5],[25.7,-1.1,-0.5,0.1,0.7,1.3,1.9,2.5],[26.7,-0.9,-0.3,0.3,0.9,1.5,2.1,2.7],[27.7,-1.2,-0.6,0,0.6,1.2,1.8,2.4,3],[28.7,-0.8,-0.2,0.4,1,1.6,2.2,2.8,3.3],[29.7,-1.1,-0.5,0.1,0.7,1.3,1.9,2.5,3.1,3.6],[30.7,-1.2,-0.6,0,0.6,1.2,1.8,2.4,3],[31.7,-1,-0.4,0.2,0.8,1.4,2,2.6,3.1],[32.7,-1.3,-0.7,-0.1,0.5,1.1,1.7,2.3,2.8],[33.7,-1.5,-0.9,-0.3,0.3,0.9,1.5,2.1,2.6],[34.6,-2.6,-2,-1.4,-0.8,-0.2,0.4,1,1.6,2.2,2.7],[35.4,-1.6,-1,-0.4,0.2,0.8,1.4,2],[36.9,-0.3,0.3,0.9,1.5]];

const dL=[[21.6,-3.9,-4.6,-5.1,-5.3,-5.5],[22.6,-0.2,0.2],[25,5.2,5,4.7,4.4,3.9,3.4,2.8,2.1,1.4,0.6,-0.6,-1.6,-3],[25.5,2.2,0.8,-0.4,1.5],[26,3.2,2.4,1.6,0.6,-0.8],[30,1,-0.5],[34.5,1.6,0.8,0,-0.9,-1.7],[35,5.2,3.2,3,2.7,2.3,1.8,1.3,0.7,0.1,-0.6,-1.3],[35.3,3.1,2.2,1.2,0.2,-1.4],[36.4,-0.7,-2.4],[37,0.2,-0.9,-0.3],[37.5,-0.5,-0.7],[37.8,-2.4],[38.6,2.2,1.1,0.5,-0.4,-1.4,-2.5],[39,2.1,0.9,0,-1,-2.4],[40,-4.1,-4.4,-2.7,-1.4,-0.1],[40.2,-4.3,-2.2,-0.6],[43,2.5,1.5,0.5],[44,-0.2,-0.8,-1],[44.8,3.2,2.2,1.2,0.2,-0.8],[45,3.4,2.5,1.4,0.4],[45.8,-0.6,-1.1],[47.5,-1,-2,-2.8],[48,-3.2,-3.7],[48.4,-3.2,-4.2],[50,2.5,1.6,0.6,-0.7,-1.5,-2.1],[51.8,4.2,3.8,3.2,2.6,2.2],[52,3.6,2.8,-0.8,-1.6,-1.8],[55,1.2,-1.3,-2],[57,0.1,-1,-1.2]];
const dC=[[17.9,1],[18.5,2.1,-0.6],[18.8,1.1],[19.2,1.8,1.2,-0.6],[19.7,-2],[20,2,1.4,-3.1,-2.2],[20.5,2.8,2.1,1.2,-3,-1.4,-0.4],[21.6,1.1],[22.2,1.6,1.2,-0.6,-1.6],[22.5,-0.9,-2.4,0.3],[22.9,0.6,2],[23,3.6,3.2,2.6,1.4,0.5,-0.9],[23.6,2.2,1.4,0.6,-0.2,-1.7],[24,3,2.4,1.7,0.9,0.1,-0.7,-1.5,-2.2,-2.9],[24.5,2.1,1.2,0.3,-0.6,-1.5],[25,5.1,4.5,3.9,3.1,2.3,1.4,0.5,-0.4,-1.3,-2.2,-3.1,-3.8],[25.5,2.6,1.7,0.8,-0.1,-1,-1.9,-2.8],[26,5.6,3.6,2.7,1.8,0.9,0,-0.9,-1.8,-2.7,-3.6],[26.5,1.6,-1.3],[27,2.2,0.4],[27.3,-0.3],[27.6,-3.9,-2.7,-2.4,-1.4,2.2,1.2],[27.8,-4.5,-4.7,-3.1,-2.3,-1.5],[28.5,-2],[28.7,-1],[29,0.9],[29.9,-0.8],[34.2,4.6,3.8,3.1,2.4,1.6,0.8,0,-0.8,-1.6,-2.4,-3.2],[34.7,2.8,1.9,1,0.2,-0.7,-1.6,-2.4],[35.2,2.4,1.5,0.6,-0.4,-1.3,-2.2,-3.1],[36,1.7,0.8,-0.1,-1,-1.9],[37.4,4,3.5,3.1,2.7,2.3,1.9,1.5,1.1,0.7,0.3,-0.3,-1.2],[37.6,3.2,2.5,1.7,0.9],[39,1.8,1,0.2,-0.6,-1.4,-2.2,-3,-3.9],[39.4,1.2,0.4,-0.8,-1.6,-2.4],[40,3.6,2.9,1.9,1,0.2,-0.7,-1.5,-2.4,-3.2,-4],[40.4,3.9,3.1,2,1.2,0.4,-1.3,-2.2],[41,2.9,1.6,-1.8,-3.1,-4.4],[41.3,1.9,-1,-1.9],[42,0.6],[42.9,4.2,3.4,2.8,2.1,1.3,0.6,-0.2,-0.9],[43.2,4.1,3,1.9,0.9,0],[43.6,3.8,2.6,1.5,0.5,-0.4,-1.1],[44,5.2,3.3,2.2,1.2,0.3,-0.7],[44.4,-4.1,-4.9,-2.2],[44.7,-3,-1.8,3.7],[45,3.9,3,2,1.1,0.2,-0.7,-1.6,-2.5,-3.4,-4.6],[47,0.7,-0.1,-1,-1.9,-2.8,-3.2],[47.4,2.8,2,1.2,0.4,-0.4,-1.2,-2,-2.8],[47.8,1.6,0.8,0,-0.8,-1.6,-2.4,-3.2,-4.3],[50,0.2,-0.9],[52,1.4,1.7,2.1,2.6,-0.1],[55,2.4,1.5,1.3,-0.3],[57,1.2,0.9,0.6]];
const dCDense=[[24,-2.2,-1.8,-1.4,-1,-0.6,-0.2,0.2,0.6,1,1.4,1.8,2.2],[25,-3.6,-3.2,-2.8,-2.4,-2,-1.6,-1.2,-0.8,-0.4,0,0.4,0.8,1.2,1.6,2,2.4,2.8,3.2,3.6,4,4.4,4.8],[34.3,-2.6,-2.2,-1.8,-1.4,-1,-0.6,-0.2,0.2,0.6,1,1.4,1.8,2.2,2.6],[34.9,-3,-2.6,-2.2,-1.8,-1.4,-1,-0.6,-0.2,0.2,0.6,1,1.4,1.8,2.2,2.6,3,3.2],[37.3,-0.2,0.2,0.6,1,1.4,1.8,2.2,2.6,3,3.4],[38.8,-2.8,-2.4,-2,-1.6,-1.2,-0.8,-0.4,0,0.4,0.8,1.1],[40.1,-3.4,-3,-2.6,-2.2,-1.8,-1.4,-1,-0.6,-0.2,0.2,0.6,1,1.4,1.8],[43,-0.8,-0.4,0,0.4,0.8,1.2,1.6,2,2.4,2.8,3.2,3.6],[44.8,-3,-2.6,-2.2,-1.8,-1.4,-1,-0.6,-0.2,0.2,0.6,1,1.4,1.8,2.2,2.6,3,3.4,3.7],[47.3,-2.6,-2.2,-1.8,-1.4,-1,-0.6,-0.2,0.2,0.6,1,1.4,1.8],[20.4,-2.4,-2,-1.6,-1.2,-0.8,-0.4]];
const dX=[[20.3,-2.6,-2,-1.5,-1,-0.4,0.3,1.1],[20.6,-2.7,-2.2,-1.6,-1.1,-0.6],[20.9,-0.9,-0.4],[23.4,2,1,0],[24,2.2,1.2,0.2,-0.8,-1.8],[25,4.2,3.6,2.6,1.6,0.6,-0.6,-1.8,-3],[25.7,3,2,1.2,0.2,-0.9,-2,-3],[26,4.6,4.1,3.4,2.9,2.3,1.3,0.3,-1.1,-1.6,-2.2,-2.8,-3.3],[28.5,2.3,2.1,1.7,1.2],[30,1.7,1.4,-0.6,-1,-1.2,-2.3,-2.8,-3.4],[34.6,2,1.2,0.4,-0.4,-1.2,-2],[35,0.9,-0.1,-1.1,-2,-2.7,-3.3,-3.9,-4.2,-4.5],[35.4,1.4,0.4,-0.6,-1.6,-2.6],[36,4.4,4.1,3.6,3,2.5,2,1.4,0.8,0.2,-0.4,-1,-1.6,-2.2,-3],[36.2,3.2,2.2,1.1,0,-1.1],[37.5,2.8,2,1.2,0.4],[39,-1,-1.8,-2.6,-3.4],[40.2,1.5,0.5,-0.5,-1.5],[40.6,1.3,-0.9,-2],[43,3,2.2,1.2,0.2,-0.7,-1.7],[43.5,2,1,0],[44,-3.7],[44.6,3.4,2.4,1.4,0.4,-0.6],[45,2.7,1.6,0.6,-0.8,-1.8,-2.8,-3.4,-3.9],[45.2,-1.3,-2.4,-3.6],[47.4,1.4,0.6,-0.6,-1.6,-2.6],[48,-0.6,-1.6,-2.6,-3.4,-3.9],[48.6,1.2,1,-1,-1.1,-0.5],[50,3.5,3.1,2.6,2,1.4,0.9,0.3,-0.3,-0.9,-1.4,-2.7,-3,-3.5],[51.7,4.6,4.2,3.7,3.2,2.6,2.1],[52,4.7,4.4,3.9,3.4,2.9,2.4,2],[52.2,4.5,3.6,2.6]];
const dXDense=[[23.7,-1.2,-0.8,-0.4,0,0.4,0.8,1.2,1.6],[25.9,-3.2,-2.8,-2.4,-2,-1.6,-1.2,-0.8,-0.4,0,0.4,0.8,1.2,1.6,2,2.4,2.8,3.2,3.6,4],[34.6,-2.4,-2,-1.6,-1.2,-0.8,-0.4,0,0.4,0.8,1.2,1.6,2,2.4],[35.1,-2.8,-2.4,-2,-1.6,-1.2,-0.8,-0.4,0,0.4,0.8,1.2,1.6,2,2.4,2.8,3.2],[36,-2.6,-2.2,-1.8,-1.4,-1,-0.6,-0.2,0.2,0.6,1,1.4,1.8,2.2,2.6,3,3.4,3.8],[37.5,0,0.4,0.8,1.2,1.6,2,2.4,2.8,3.2],[39.1,-3.2,-2.8,-2.4,-2,-1.6,-1.2,-0.8,-0.4,0,0.4,0.8],[40.3,-3,-2.6,-2.2,-1.8,-1.4,-1,-0.6,-0.2,0.2,0.6,1,1.4],[43.4,-0.6,-0.2,0.2,0.6,1,1.4,1.8,2.2,2.6,3],[45,-3.2,-2.8,-2.4,-2,-1.6,-1.2,-0.8,-0.4,0,0.4,0.8,1.2,1.6,2,2.4,2.8,3.2],[47.6,-3,-2.6,-2.2,-1.8,-1.4,-1,-0.6,-0.2,0.2,0.6,1,1.4],[49.9,-1.4,-1,-0.6,-0.2,0.2,0.6,1,1.4,1.8,2.2,2.6,3],[51.9,2.2,2.6,3,3.4,3.8,4.2]];

const PANELS=[
 {id:'a',root:'pa',x0:-25,x1:5,px0:405,px1:1485,y0:-25,y1:5,py0:1085,py1:40,xt:ticksAX,yt:ticksAY,xb:1206,yr:334,L:aL.concat(aLDense),C:aC.concat(aCDense),X:aX.concat(aXDense),tx:trendAX,ty:trendAY,
  lg:[[498,65],[837,65],[1183,65]]},
 {id:'b',root:'pb',x0:0,x1:10,px0:2038,px1:3366,y0:-15,y1:15,py0:1035,py1:59,xt:ticksBX,yt:ticksY,xb:1157,yr:1968,L:bL.concat(bLDense),C:bC.concat(bCDense),X:bX.concat(bXDense),tx:trendBX,ty:trendBY,zero:true,
  lg:[[2157,65],[2498,65],[2846,65]]},
 {id:'c',root:'pc',x0:0,x1:50,px0:260,px1:1586,y0:-15,y1:15,py0:2481,py1:1496.5,xt:ticksCX,yt:ticksY,xb:2600,yr:189,L:cL,C:cC.concat(cCDense),X:cX.concat(cXDense),tx:trendCX,ty:trendCY,zero:true,
  lg:[[378,1502],[720,1502],[1066,1502]]},
 {id:'d',root:'pd',x0:15,x1:60,px0:2023,px1:3363,y0:-15,y1:15,py0:2464.5,py1:1496,xt:ticksDX,yt:ticksY,xb:2585,yr:1952,L:dL,C:dC.concat(dCDense),X:dX.concat(dXDense),tx:trendDX,ty:trendDY,zero:true,
  lg:[[2156,1502],[2497,1502],[2843,1502]]}
];

const NS='http://www.w3.org/2000/svg';
function mk(parent,tag,attrs){
  const el=document.createElementNS(NS,tag);
  for(const k in attrs)el.setAttribute(k,attrs[k]);
  parent.appendChild(el);
  return el;
}
function axisFn(d0,d1,r0,r1){return v=>r0+(v-d0)/(d1-d0)*(r1-r0);}
function labelWidth(s){
  let w=0;
  for(const ch of String(s))w+=ch==='-'?23:35;
  return w;
}
function circle(g,cx,cy,r,sw){
  return mk(g,'circle',{cx:cx,cy:cy,r:r,fill:'none',stroke:'#000','stroke-width':sw});
}
function triangle(g,cx,cy,r,sw){
  const pts=(cx-r)+','+(cy+r*0.85)+' '+(cx+r)+','+(cy+r*0.85)+' '+cx+','+(cy-r*1.05);
  return mk(g,'polygon',{points:pts,fill:'none',stroke:'#000','stroke-width':sw,'stroke-linejoin':'miter'});
}
function cross(g,cx,cy,r,sw){
  const d='M'+(cx-r)+' '+(cy-r)+'L'+(cx+r)+' '+(cy+r)+'M'+(cx-r)+' '+(cy+r)+'L'+(cx+r)+' '+(cy-r);
  return mk(g,'path',{d:d,fill:'none',stroke:'#000','stroke-width':sw});
}
function drawSeries(g,rows,sx,sy,shape,name,size){
  for(const row of rows){
    const px=sx(row[0]);
    for(let i=1;i<row.length;i++){
      const m=shape(g,px,sy(row[i]),size,5.4);
      
      
    }
  }
}
for(const p of PANELS){
  const root=document.getElementById(p.root);
  const sx=axisFn(p.x0,p.x1,p.px0,p.px1);
  const sy=axisFn(p.y0,p.y1,p.py0,p.py1);
  const g=document.createElementNS(NS,'g');
  root.insertBefore(g,root.firstChild);
  
  

  if(p.id==='a'){
    const diag=mk(g,'line',{x1:sx(identityA[0]),y1:sy(identityA[0]),x2:sx(identityA[1]),y2:sy(identityA[1]),stroke:'#000','stroke-width':4});
    
    
  }
  if(p.zero){
    const z=mk(g,'line',{x1:p.px0-25,y1:sy(0),x2:p.px1,y2:sy(0),stroke:'#000','stroke-width':4});
    
    
  }
  drawSeries(g,p.L,sx,sy,circle,'l-band-point',11.5);
  drawSeries(g,p.C,sx,sy,triangle,'c-band-point',10.5);
  drawSeries(g,p.X,sx,sy,cross,'x-band-point',10.5);

  const t=mk(g,'line',{x1:sx(p.tx[0]),y1:sy(p.ty[0]),x2:sx(p.tx[1]),y2:sy(p.ty[1]),stroke:'#404040','stroke-width':15,'stroke-linecap':'round'});
  
  

  const ya=mk(g,'line',{x1:p.px0,y1:p.py1,x2:p.px0,y2:p.py0,stroke:'#595959','stroke-width':3.5});
  
  
  const xa=mk(g,'line',{x1:p.px0,y1:p.py0,x2:p.px1,y2:p.py0,stroke:'#595959','stroke-width':3.5});
  
  

  for(const v of p.xt){
    const tick=mk(g,'line',{x1:sx(v),y1:p.py0,x2:sx(v),y2:p.py0+24,stroke:'#595959','stroke-width':3.5});
    
    
    const lab=mk(g,'text',{x:sx(v),y:p.xb,'text-anchor':'middle','font-size':62,textLength:labelWidth(v),lengthAdjust:'spacingAndGlyphs'});
    lab.textContent=String(v);
    
    
  }
  for(const v of p.yt){
    const tick=mk(g,'line',{x1:p.px0-25,y1:sy(v),x2:p.px0,y2:sy(v),stroke:'#595959','stroke-width':3.5});
    
    
    const lab=mk(g,'text',{x:p.yr,y:sy(v)+22,'text-anchor':'end','font-size':62,textLength:labelWidth(v),lengthAdjust:'spacingAndGlyphs'});
    lab.textContent=String(v);
    
    
  }
  const shapes=[circle,triangle,cross];
  const names=['legend-marker-l-band','legend-marker-c-band','legend-marker-x-band'];
  const radii=[12,10,10];
  for(let i=0;i<3;i++){
    const m=shapes[i](g,p.lg[i][0],p.lg[i][1],radii[i],4);
    
    
  }
}
</script>
</body>
</html>
